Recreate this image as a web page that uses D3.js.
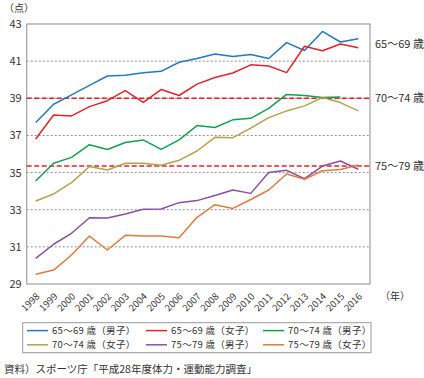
<!DOCTYPE html>
<html><head><meta charset="utf-8">
<script src="https://cdn.jsdelivr.net/npm/d3@7"></script>
<style>
body{margin:0;background:#fff;}
text{font-family:"Noto Sans CJK JP","Noto Sans",sans-serif;fill:#333;}
</style></head>
<body><svg id="c" width="424" height="378"></svg>
<script>
const years = [1998,1999,2000,2001,2002,2003,2004,2005,2006,2007,2008,2009,2010,2011,2012,2013,2014,2015,2016];
const yTicks = [29,31,33,35,37,39,41,43];
const m6569 = [37.7,38.68,39.18,39.7,40.2,40.24,40.38,40.45,40.94,41.14,41.38,41.25,41.36,41.14,42.0,41.57,42.6,42.03,42.2];
const f6569 = [36.81,38.1,38.05,38.55,38.87,39.41,38.78,39.47,39.15,39.76,40.12,40.36,40.8,40.74,40.38,41.8,41.56,41.92,41.72];
const m7074 = [34.55,35.5,35.82,36.5,36.24,36.62,36.76,36.25,36.76,37.53,37.43,37.84,37.92,38.46,39.21,39.15,39.04,39.07,null];
const f7074 = [33.47,33.85,34.46,35.33,35.14,35.5,35.5,35.39,35.66,36.16,36.9,36.88,37.39,37.96,38.32,38.59,39.04,38.77,38.32];
const m7579 = [30.38,31.14,31.73,32.57,32.55,32.77,33.02,33.04,33.38,33.49,33.77,34.06,33.88,35.0,35.12,34.67,35.35,35.62,35.18];
const f7579 = [29.52,29.75,30.56,31.58,30.83,31.62,31.58,31.58,31.49,32.59,33.27,33.07,33.55,34.06,34.92,34.64,35.1,35.16,35.41];
const seriesNames = ["65〜69歳（男子）","65〜69歳（女子）","70〜74歳（男子）","70〜74歳（女子）","75〜79歳（男子）","75〜79歳（女子）"];
const seriesColors = ["#2479c2","#e2232e","#12a24e","#b3a24a","#8b4ea6","#e07b3f"];
const seriesData = [m6569,f6569,m7074,f7074,m7579,f7579];
const refValues = [39,35.35];
const refLabels = ["70〜74 歳","75〜79 歳"];
const topLabel = "65〜69 歳";

const svg = d3.select("#c");
const L=26.7,R=370,T=24,B=284;
const x = d3.scalePoint().domain(years).range([35.7,358.3]);
const y = d3.scaleLinear().domain([29,43]).range([B,T]);

// gridlines
svg.append("g").selectAll("line").data(yTicks.filter(v=>v>29&&v<43)).join("line")
  .attr("x1",L).attr("x2",R).attr("y1",d=>y(d)).attr("y2",d=>y(d))
  .attr("stroke","#8c8c8c").attr("stroke-width",1).attr("stroke-dasharray","2,2");

// frame
svg.append("rect").attr("x",L).attr("y",T).attr("width",R-L).attr("height",B-T)
  .attr("fill","none").attr("stroke","#a0a0a0").attr("stroke-width",1.2);

// y axis labels
const ya = svg.append("g").attr("transform",`translate(${L},0)`)
  .call(d3.axisLeft(y).tickValues(yTicks).tickSize(0).tickPadding(5));
ya.select(".domain").remove();
ya.selectAll("text").attr("font-size",11).attr("fill","#333")
  .attr("font-family",'"Noto Sans CJK JP",sans-serif');

// x axis labels
const xa = svg.append("g").attr("transform",`translate(0,${B})`)
  .call(d3.axisBottom(x).tickSize(0).tickPadding(0));
xa.select(".domain").remove();
xa.selectAll("text").attr("font-size",9.5).attr("fill","#333")
  .attr("font-family",'"Noto Sans CJK JP",sans-serif')
  .attr("text-anchor","end").attr("dy",0)
  .attr("transform","translate(4,13) rotate(-45)");

// reference lines
svg.append("g").selectAll("line").data(refValues).join("line")
  .attr("x1",L).attr("x2",R).attr("y1",d=>y(d)).attr("y2",d=>y(d))
  .attr("stroke","#e8202a").attr("stroke-width",1.6).attr("stroke-dasharray","5,2.5");

// series lines
const line = d3.line().defined(d=>d[1]!=null).x(d=>x(d[0])).y(d=>y(d[1]));
svg.append("g").selectAll("path").data(seriesData).join("path")
  .attr("d",s=>line(years.map((yr,i)=>[yr,s[i]])))
  .attr("fill","none").attr("stroke",(d,i)=>seriesColors[i]).attr("stroke-width",1.5)
  .attr("stroke-linejoin","round");

// right labels
svg.append("text").attr("x",375).attr("y",48).attr("font-size",11).text(topLabel);
svg.append("g").selectAll("text").data(refValues).join("text")
  .attr("x",375).attr("y",d=>y(d)+4).attr("font-size",11).text((d,i)=>refLabels[i]);

// unit labels
svg.append("text").attr("x",4).attr("y",12).attr("font-size",10).text("（点）");
svg.append("text").attr("x",380).attr("y",300).attr("font-size",10).text("（年）");

// legend
svg.append("rect").attr("x",22.7).attr("y",322.7).attr("width",348.3).attr("height",30)
  .attr("fill","none").attr("stroke","#999").attr("stroke-width",1);
const colX=[27,146,263];
const lg = svg.append("g").selectAll("g").data(seriesNames).join("g")
  .attr("transform",(d,i)=>`translate(${colX[i%3]},${i<3?330.6:344.8})`);
lg.append("line").attr("x1",0).attr("x2",21).attr("stroke",(d,i)=>seriesColors[i]).attr("stroke-width",1.5);
lg.append("text").attr("x",25).attr("y",3.4).attr("font-size",9.5)
  .attr("letter-spacing",0.3)
  .text(d=>d.replace("歳"," 歳"));

svg.append("text").attr("x",4).attr("y",373).attr("font-size",10.5).text("資料）スポーツ庁「平成28年度体力・運動能力調査」");
</script></body></html>
